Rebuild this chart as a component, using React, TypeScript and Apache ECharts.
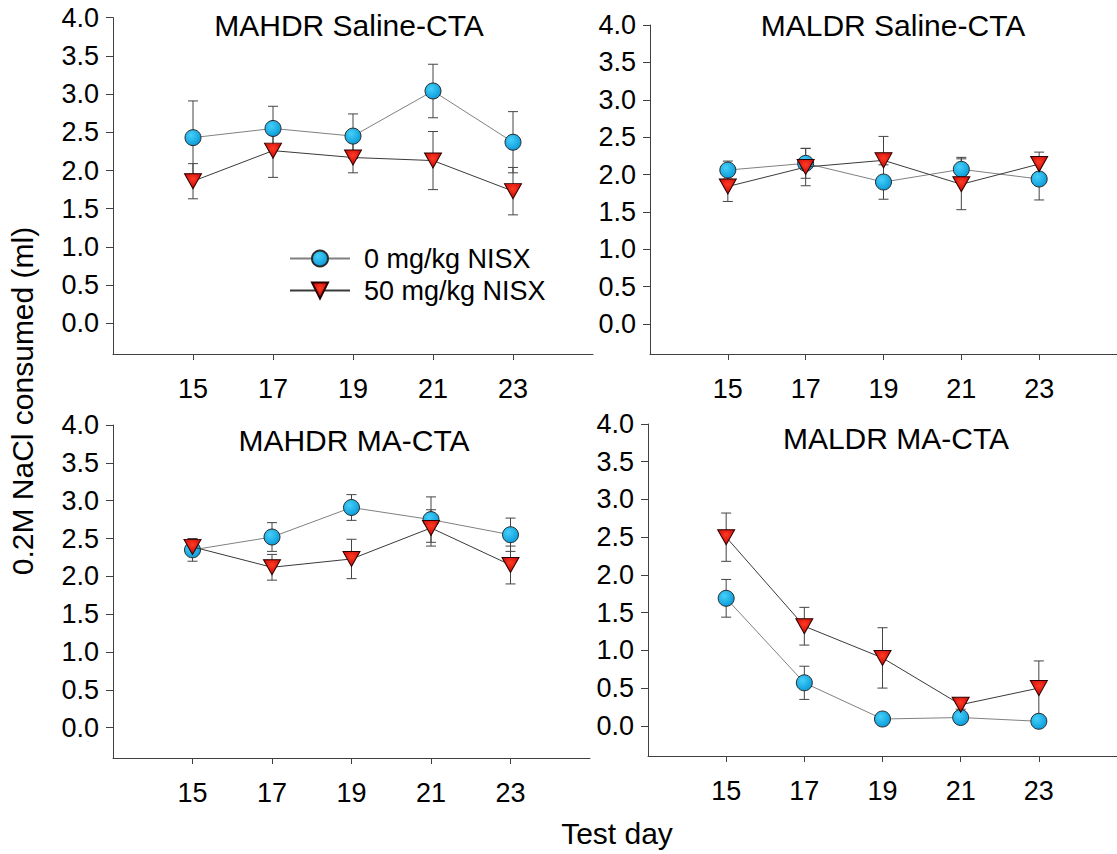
import React, { useEffect, useRef } from "react";
import * as echarts from "echarts";

const days = [15, 17, 19, 21, 23];
const yTickValues = [0, 0.5, 1, 1.5, 2, 2.5, 3, 3.5, 4];
const panelTitles = ["MAHDR Saline-CTA", "MALDR Saline-CTA", "MAHDR MA-CTA", "MALDR MA-CTA"];
const seriesNames = ["0 mg/kg NISX", "50 mg/kg NISX"];

const mahdrSaline0 = [2.43, 2.55, 2.45, 3.04, 2.37];
const mahdrSaline0Err = [0.48, 0.29, 0.29, 0.35, 0.4];
const mahdrSaline50 = [1.86, 2.26, 2.17, 2.13, 1.73];
const mahdrSaline50Err = [0.23, 0.35, 0.2, 0.38, 0.31];

const maldrSaline0 = [2.06, 2.15, 1.9, 2.07, 1.94];
const maldrSaline0Err = [0.12, 0.2, 0.23, 0.16, 0.28];
const maldrSaline50 = [1.84, 2.1, 2.19, 1.87, 2.14];
const maldrSaline50Err = [0.2, 0.25, 0.32, 0.34, 0.16];

const mahdrMA0 = [2.35, 2.52, 2.91, 2.75, 2.55];
const mahdrMA0Err = [0.15, 0.19, 0.17, 0.3, 0.22];
const mahdrMA50 = [2.39, 2.12, 2.23, 2.64, 2.15];
const mahdrMA50Err = [0.1, 0.17, 0.26, 0.24, 0.25];

const maldrMA0 = [1.69, 0.57, 0.09, 0.11, 0.06];
const maldrMA0Err = [0.25, 0.22, 0.03, 0.04, 0.03];
const maldrMA50 = [2.5, 1.32, 0.9, 0.28, 0.5];
const maldrMA50Err = [0.32, 0.25, 0.4, 0.06, 0.36];

const panels = [
  { m0: mahdrSaline0, e0: mahdrSaline0Err, m50: mahdrSaline50, e50: mahdrSaline50Err },
  { m0: maldrSaline0, e0: maldrSaline0Err, m50: maldrSaline50, e50: maldrSaline50Err },
  { m0: mahdrMA0, e0: mahdrMA0Err, m50: mahdrMA50, e50: mahdrMA50Err },
  { m0: maldrMA0, e0: maldrMA0Err, m50: maldrMA50, e50: maldrMA50Err },
];

const FONT = "'Liberation Sans', Arial, sans-serif";

const grids = [
  { left: 113, top: 17.6, width: 480, height: 336.4 },
  { left: 650, top: 25, width: 471, height: 329 },
  { left: 113, top: 425, width: 477, height: 333 },
  { left: 648, top: 424, width: 474, height: 332 },
];
const titlePos = [
  [349, 25],
  [893, 25],
  [354, 440],
  [896, 438],
];

const circleColor = {
  type: "radial",
  x: 0.38,
  y: 0.35,
  r: 0.7,
  colorStops: [
    { offset: 0, color: "#45d0fa" },
    { offset: 1, color: "#0899d8" },
  ],
};
const triColor = {
  type: "radial",
  x: 0.5,
  y: 0.35,
  r: 0.7,
  colorStops: [
    { offset: 0, color: "#ff3b24" },
    { offset: 1, color: "#c20000" },
  ],
};
const triSymbol = "path://M0,0 L20,0 L10,18 Z";

function errorRender(params: any, api: any) {
  const x = api.value(0);
  const lo = api.value(1);
  const hi = api.value(2);
  const pLo = api.coord([x, lo]);
  const pHi = api.coord([x, hi]);
  const cap = 5;
  const style = { stroke: "#444", lineWidth: 1 };
  return {
    type: "group",
    children: [
      { type: "line", shape: { x1: pLo[0], y1: pLo[1], x2: pHi[0], y2: pHi[1] }, style },
      { type: "line", shape: { x1: pHi[0] - cap, y1: pHi[1], x2: pHi[0] + cap, y2: pHi[1] }, style },
      { type: "line", shape: { x1: pLo[0] - cap, y1: pLo[1], x2: pLo[0] + cap, y2: pLo[1] }, style },
    ],
  };
}

export default function App() {
  const ref = useRef<HTMLDivElement>(null);
  useEffect(() => {
    if (!ref.current) return;
    const chart = echarts.init(ref.current, null, { renderer: "svg" });
    const xAxis: any[] = [];
    const yAxis: any[] = [];
    const series: any[] = [];
    const graphic: any[] = [];
    panels.forEach((p, i) => {
      xAxis.push({
        type: "value",
        gridIndex: i,
        min: 13,
        max: 25,
        splitLine: { show: false },
        axisLine: { show: true, onZero: false, lineStyle: { color: "#404040", width: 1 } },
        axisTick: { show: true, length: 6, customValues: days, lineStyle: { color: "#404040" } },
        axisLabel: { customValues: days, margin: 21, fontSize: 27, color: "#000", fontFamily: FONT },
      });
      yAxis.push({
        type: "value",
        gridIndex: i,
        min: -0.4,
        max: 4,
        splitLine: { show: false },
        axisLine: { show: true, onZero: false, lineStyle: { color: "#404040", width: 1 } },
        axisTick: { show: true, length: 7, customValues: yTickValues, lineStyle: { color: "#404040" } },
        axisLabel: {
          customValues: yTickValues,
          margin: 14,
          fontSize: 27,
          color: "#000",
          fontFamily: FONT,
          formatter: (v: number) => v.toFixed(1),
        },
      });
      series.push({
        type: "custom",
        name: "err0-" + i,
        xAxisIndex: i,
        yAxisIndex: i,
        renderItem: errorRender,
        encode: { x: 0, y: [1, 2] },
        data: days.map((d, k) => [d, p.m0[k] - p.e0[k], p.m0[k] + p.e0[k]]),
        z: 1,
        silent: true,
      });
      series.push({
        type: "custom",
        name: "err50-" + i,
        xAxisIndex: i,
        yAxisIndex: i,
        renderItem: errorRender,
        encode: { x: 0, y: [1, 2] },
        data: days.map((d, k) => [d, p.m50[k] - p.e50[k], p.m50[k] + p.e50[k]]),
        z: 1,
        silent: true,
      });
      series.push({
        type: "line",
        name: seriesNames[0],
        xAxisIndex: i,
        yAxisIndex: i,
        data: days.map((d, k) => [d, p.m0[k]]),
        symbol: "circle",
        symbolSize: 16,
        showAllSymbol: true,
        lineStyle: { color: "#808080", width: 1 },
        itemStyle: { color: circleColor, borderColor: "#2a2a2a", borderWidth: 1 },
        z: 3,
      });
      series.push({
        type: "line",
        name: seriesNames[1],
        xAxisIndex: i,
        yAxisIndex: i,
        data: days.map((d, k) => [d, p.m50[k]]),
        symbol: triSymbol,
        symbolSize: [17, 15],
        showAllSymbol: true,
        lineStyle: { color: "#3a3a3a", width: 1 },
        itemStyle: { color: triColor, borderColor: "#2a0000", borderWidth: 1 },
        z: 4,
      });
      graphic.push({
        type: "text",
        x: titlePos[i][0],
        y: titlePos[i][1],
        style: {
          text: panelTitles[i],
          fontSize: 30,
          fontFamily: FONT,
          fill: "#000",
          align: "center",
          verticalAlign: "middle",
        },
      });
    });
    graphic.push({
      type: "text",
      x: 22,
      y: 401,
      rotation: Math.PI / 2,
      style: {
        text: "0.2M NaCl consumed (ml)",
        fontSize: 30,
        fontFamily: FONT,
        fill: "#000",
        align: "center",
        verticalAlign: "middle",
      },
    });
    graphic.push({
      type: "text",
      x: 617,
      y: 833,
      style: {
        text: "Test day",
        fontSize: 30,
        fontFamily: FONT,
        fill: "#000",
        align: "center",
        verticalAlign: "middle",
      },
    });
    chart.setOption({
      animation: false,
      backgroundColor: "#fff",
      grid: grids.map((g) => ({ ...g, containLabel: false })),
      xAxis,
      yAxis,
      series,
      graphic,
      legend: {
        data: seriesNames,
        orient: "vertical",
        left: 284,
        top: 240,
        itemWidth: 60,
        itemHeight: 20,
        itemGap: 5,
        textStyle: { fontSize: 27, fontFamily: FONT, color: "#000", padding: [0, 0, 0, 9] },
        selectedMode: false,
      },
    });
    return () => chart.dispose();
  }, []);
  return (
    <div
      ref={ref}
      style={{ position: "fixed", left: 0, top: 0, width: 1117, height: 854, background: "#fff" }}
    />
  );
}
